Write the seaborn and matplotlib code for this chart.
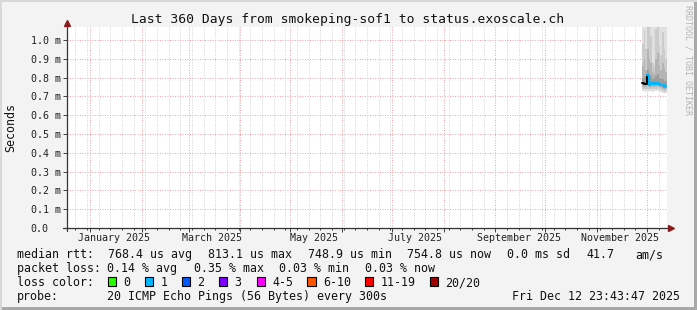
import numpy as np
import pandas as pd
import matplotlib
matplotlib.use("Agg")
import matplotlib.pyplot as plt
import matplotlib.dates as mdates
from matplotlib.patches import Rectangle
import seaborn as sns

# ---------------- data ----------------
title = "Last 360 Days from smokeping-sof1 to status.exoscale.ch"
range_start = "2024-12-17 23:43:47"
range_end = "2025-12-12 23:43:47"

days = ["2025-11-28", "2025-11-29", "2025-11-30", "2025-12-01", "2025-12-02",
        "2025-12-03", "2025-12-04", "2025-12-05", "2025-12-06", "2025-12-07",
        "2025-12-08", "2025-12-09", "2025-12-10", "2025-12-11", "2025-12-12"]
# median rtt in ms
median_ms = [0.770, 0.768, 0.766, 0.812, 0.760, 0.772, 0.765, 0.770, 0.768,
             0.772, 0.766, 0.762, 0.758, 0.750, 0.755]
# smoke: sorted ping quantiles, outer (a) to inner (d)
ping_hi_a = [1.08, 1.10, 1.10, 1.10, 1.10, 1.10, 1.10, 1.10, 1.10, 1.10, 1.10, 1.10, 1.10, 1.10, 1.10]
ping_hi_b = [0.98, 1.05, 0.95, 1.10, 1.08, 1.02, 0.88, 0.86, 1.06, 1.10, 0.97, 0.92, 1.04, 0.95, 0.90]
ping_hi_c = [0.86, 0.90, 0.84, 0.95, 0.90, 0.88, 0.83, 0.82, 0.90, 0.93, 0.86, 0.84, 0.88, 0.85, 0.83]
ping_hi_d = [0.80, 0.81, 0.80, 0.84, 0.80, 0.81, 0.79, 0.80, 0.81, 0.82, 0.80, 0.79, 0.79, 0.78, 0.78]
ping_lo_d = [0.762, 0.760, 0.758, 0.770, 0.755, 0.762, 0.758, 0.761, 0.760, 0.763, 0.758, 0.755, 0.750, 0.744, 0.748]
ping_lo_c = [0.752, 0.750, 0.748, 0.755, 0.745, 0.752, 0.748, 0.750, 0.750, 0.752, 0.748, 0.745, 0.740, 0.735, 0.738]
ping_lo_b = [0.742, 0.740, 0.738, 0.742, 0.736, 0.742, 0.738, 0.740, 0.740, 0.742, 0.738, 0.735, 0.730, 0.726, 0.728]
ping_lo_a = [0.730, 0.728, 0.726, 0.730, 0.725, 0.730, 0.726, 0.728, 0.728, 0.730, 0.726, 0.723, 0.719, 0.715, 0.717]
smoke_colors = ["#e0e0e0", "#cbcbcb", "#b4b4b4", "#9c9c9c"]
median_colors = ["#000000", "#00b8ff"]   # unknown-loss segment, 1-loss segment
split_index = 3

month_label_dates = ["2025-01-15", "2025-03-15", "2025-05-15",
                     "2025-07-15", "2025-09-15", "2025-11-15"]
month_labels = ["January 2025", "March 2025", "May 2025",
                "July 2025", "September 2025", "November 2025"]
ytick_vals = [0.0, 0.1, 0.2, 0.3, 0.4, 0.5, 0.6, 0.7, 0.8, 0.9, 1.0]
ytick_labels = ["0.0", "0.1 m", "0.2 m", "0.3 m", "0.4 m", "0.5 m",
                "0.6 m", "0.7 m", "0.8 m", "0.9 m", "1.0 m"]

rtt_items = ["median rtt:", "768.4 us avg", "813.1 us max", "748.9 us min",
             "754.8 us now", "0.0 ms sd", "41.7", "am/s"]
loss_items = ["packet loss:", "0.14 % avg", "0.35 % max", "0.03 % min", "0.03 % now"]
loss_title = "loss color:"
loss_labels = ["0", "1", "2", "3", "4-5", "6-10", "11-19", "20/20"]
loss_colors = ["#26ff00", "#00b8ff", "#0059ff", "#7e00ff",
               "#ff00ff", "#ff5500", "#ff0000", "#a10000"]
probe_items = ["probe:", "20 ICMP Echo Pings (56 Bytes) every 300s"]
stamp = "Fri Dec 12 23:43:47 2025"

# ---------------- style ----------------
sns.set_theme(style="white")
plt.rcParams["font.family"] = ["DejaVu Sans Mono", "DejaVu Sans"]
W, H = 697, 310
BG = "#f3f3f3"
MONO = "DejaVu Sans Mono"
TXT = "#111111"

fig = plt.figure(figsize=(W / 100, H / 100), dpi=100, facecolor=BG)


def fx(x):
    return x / W


def fy(y):
    return 1 - y / H


ax_l, ax_r, ax_t, ax_b = 67, 667, 27, 228
ax = fig.add_axes([fx(ax_l), fy(ax_b), (ax_r - ax_l) / W, (ax_b - ax_t) / H])
ax.set_facecolor("white")

# ---------------- smoke + median ----------------
t = pd.to_datetime(days)
t_ext = list(t) + [pd.Timestamp(range_end)]


def ext(v):
    return list(v) + [v[-1]]


bands = [(ping_lo_a, ping_hi_a), (ping_lo_b, ping_hi_b),
         (ping_lo_c, ping_hi_c), (ping_lo_d, ping_hi_d)]
for (lo, hi), c in zip(bands, smoke_colors):
    ax.fill_between(t_ext, ext(lo), ext(hi), step="post", color=c, lw=0, zorder=2)

df = pd.DataFrame({"time": t_ext, "median": ext(median_ms)})
sns.lineplot(data=df.iloc[: split_index + 1], x="time", y="median", ax=ax,
             color=median_colors[0], lw=1.4, drawstyle="steps-post", zorder=4)
sns.lineplot(data=df.iloc[split_index:], x="time", y="median", ax=ax,
             color=median_colors[1], lw=1.6, drawstyle="steps-post", zorder=5)

# ---------------- axes ----------------
ax.set_xlim(pd.Timestamp(range_start), pd.Timestamp(range_end))
ax.set_ylim(0, (ax_b - ax_t) / 188.0)
ax.set_xlabel("")
ax.set_ylabel("")
for s in ax.spines.values():
    s.set_visible(False)

ax.xaxis.set_major_locator(mdates.MonthLocator())
ax.xaxis.set_minor_locator(mdates.WeekdayLocator(byweekday=mdates.MO))
ax.tick_params(axis="x", which="major", bottom=True, length=3, width=0.7,
               color="#404040", labelbottom=False, direction="out")
ax.tick_params(axis="x", which="minor", bottom=True, length=1.5, width=0.7,
               color="#404040", direction="out")
ax.set_yticks(ytick_vals)
ax.set_yticklabels(ytick_labels)
ax.tick_params(axis="y", which="major", left=True, length=3, width=0.7,
               color="#404040", pad=23.1, labelsize=7.2, labelcolor="#222222",
               direction="out")
for lbl in ax.get_yticklabels():
    lbl.set_horizontalalignment("left")
    lbl.set_fontfamily(MONO)

ax.grid(which="major", axis="both", color="#f0a8a8", lw=0.72, ls=(0, (1, 1.5)), zorder=1)
ax.grid(which="minor", axis="x", color="#d4d4d4", lw=0.72, ls=(0, (1, 1.5)), zorder=1)
ax.set_axisbelow(True)

sec = ax.secondary_xaxis("bottom")
sec.set_xticks(mdates.date2num(pd.to_datetime(month_label_dates)))
sec.set_xticklabels(month_labels)
sec.tick_params(length=0, pad=3.6, labelsize=7.2, labelcolor="#222222")
for lbl in sec.get_xticklabels():
    lbl.set_fontfamily(MONO)
sec.spines["bottom"].set_visible(False)

# axis lines with arrows
axis_col = "#333333"
arrow_col = "#8b1a1a"
ph = ax_b - ax_t
pw = ax_r - ax_l
ax.plot([0, 0], [-3 / ph, (ax_b - 24) / ph], transform=ax.transAxes,
        color=axis_col, lw=0.9, clip_on=False, zorder=6)
ax.plot([0], [(ax_b - 23) / ph], marker="^", ms=5, color=arrow_col,
        transform=ax.transAxes, clip_on=False, zorder=7)
ax.plot([-4 / pw, (672 - ax_l - 2) / pw], [0, 0], transform=ax.transAxes,
        color=axis_col, lw=0.9, clip_on=False, zorder=6)
ax.plot([(672 - ax_l - 1) / pw], [0], marker=">", ms=5, color=arrow_col,
        transform=ax.transAxes, clip_on=False, zorder=7)

# ---------------- texts ----------------
fig.text(fx(348), fy(23.5), title, ha="center", va="baseline",
         fontsize=9.4, family=MONO, color=TXT)
fig.text(fx(11.2), fy(127.5), "Seconds", rotation=90, ha="center", va="center",
         fontsize=8.4, family=MONO, color=TXT)
fig.text(fx(688), fy(5), "RRDTOOL / TOBI OETIKER", rotation=-90, ha="center",
         va="top", fontsize=6.0, family=MONO, color="#b4b4b4")

FS = 8.4
row_y = [258.3, 272.3, 286.3, 300.3]


def put(x, y, s, ha="left"):
    fig.text(fx(x), fy(y), s, ha=ha, va="baseline", fontsize=FS,
             family=MONO, color=TXT)


rtt_x = [16.7, 108.0, 207.5, 307.7, 406.7, 506.7, 586.0, 635.0]
for s, x in zip(rtt_items, rtt_x):
    put(x, row_y[0], s)
loss_x = [16.7, 107.0, 194.5, 279.3, 365.0]
for s, x in zip(loss_items, loss_x):
    put(x, row_y[1], s)
put(16.7, row_y[2], loss_title)
box_x = [107.7, 145, 181.7, 219, 256.7, 307.3, 365, 430]
for lab, col, bx in zip(loss_labels, loss_colors, box_x):
    fig.patches.append(Rectangle((fx(bx), fy(285.7)), 8.3 / W, 8.3 / H,
                                 transform=fig.transFigure, facecolor=col,
                                 edgecolor="#000000", lw=0.8, figure=fig))
    put(bx + 15.5, row_y[2], lab)
put(16.7, row_y[3], probe_items[0])
put(107.3, row_y[3], probe_items[1])
put(680, row_y[3], stamp, ha="right")

# frame shading
fig.patches.append(Rectangle((fx(694), 0), 3 / W, 1, transform=fig.transFigure,
                             facecolor="#a8a8a8", lw=0, figure=fig))
fig.patches.append(Rectangle((0, 0), 1, 3 / H, transform=fig.transFigure,
                             facecolor="#a8a8a8", lw=0, figure=fig))
fig.patches.append(Rectangle((0, fy(2)), 1, 2 / H, transform=fig.transFigure,
                             facecolor="#d8d8d8", lw=0, figure=fig))
fig.patches.append(Rectangle((0, 0), 2 / W, 1, transform=fig.transFigure,
                             facecolor="#d8d8d8", lw=0, figure=fig))

fig.savefig("out.png", dpi=100, facecolor=BG)
